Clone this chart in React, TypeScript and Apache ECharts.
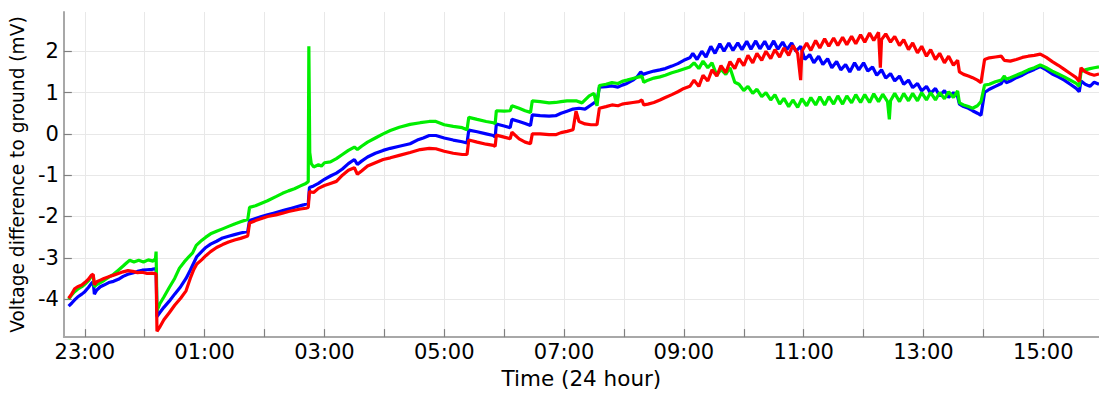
import React, { useEffect, useRef } from "react";
import * as echarts from "echarts";

// time in hours relative to midnight (negative = previous evening)
const hourTicks = [-1, 0, 1, 2, 3, 4, 5, 6, 7, 8, 9, 10, 11, 12, 13, 14, 15];
const hourLabels = [-1, 1, 3, 5, 7, 9, 11, 13, 15];
const voltTicks = [-4, -3, -2, -1, 0, 1, 2];

const blueData = [
  [-1.27,-4.17],[-1.22,-4.1],[-1.17,-4.02],[-1.12,-3.95],[-1.05,-3.88],[-1.0,-3.82],[-0.94,-3.72],[-0.89,-3.62],[-0.86,-3.58],[-0.84,-3.88],[-0.8,-3.78],[-0.74,-3.7],[-0.68,-3.66],[-0.6,-3.6],[-0.52,-3.57],[-0.44,-3.52],[-0.36,-3.45],[-0.28,-3.4],[-0.2,-3.37],[-0.12,-3.33],[-0.04,-3.3],[0.04,-3.29],[0.12,-3.28],[0.19,-3.26],
  [0.205,-4.42],[0.25,-4.33],[0.32,-4.2],[0.41,-4.05],[0.5,-3.88],[0.6,-3.7],[0.69,-3.5],[0.76,-3.3],[0.82,-3.12],[0.87,-2.97],[0.95,-2.85],[1.02,-2.75],[1.1,-2.67],[1.2,-2.6],[1.3,-2.52],[1.4,-2.48],[1.5,-2.44],[1.6,-2.4],[1.72,-2.36],
  [1.75,-2.1],[1.85,-2.05],[1.95,-2.0],[2.05,-1.96],[2.15,-1.92],[2.25,-1.88],[2.35,-1.84],[2.45,-1.8],[2.55,-1.76],[2.65,-1.72],[2.73,-1.68],
  [2.75,-1.3],[2.82,-1.26],[2.9,-1.2],[3.0,-1.1],[3.1,-1.02],[3.2,-0.95],[3.3,-0.85],[3.4,-0.72],[3.5,-0.62],[3.55,-0.74],[3.62,-0.66],[3.72,-0.56],[3.85,-0.47],[3.98,-0.4],[4.1,-0.35],[4.25,-0.3],[4.43,-0.24],[4.55,-0.15],[4.65,-0.1],[4.75,-0.04],[4.86,-0.04],[5.0,-0.1],[5.15,-0.15],[5.3,-0.19],[5.38,-0.22],
  [5.41,0.09],[5.55,0.05],[5.7,0.0],[5.82,-0.04],[5.85,-0.08],
  [5.87,0.24],[6.0,0.19],[6.1,0.15],[6.13,0.35],[6.25,0.3],[6.35,0.25],[6.44,0.2],
  [6.47,0.46],[6.6,0.44],[6.75,0.43],[6.86,0.44],[6.95,0.5],[7.05,0.55],[7.15,0.6],[7.25,0.62],[7.35,0.6],[7.45,0.7],[7.55,0.8],
  [7.59,1.13],[7.7,1.14],[7.8,1.16],[7.9,1.13],[7.97,1.18],[8.05,1.22],[8.15,1.3],[8.22,1.38],[8.28,1.5],[8.32,1.44],[8.4,1.48],[8.5,1.52],[8.6,1.55],[8.69,1.58],[8.8,1.64],[8.9,1.7],[9.0,1.78],[9.1,1.84],
  [9.15,1.95],[9.22,1.8],[9.3,2.0],[9.37,1.86],[9.45,2.12],[9.52,1.95],[9.6,2.18],[9.67,2.0],[9.75,2.2],[9.82,2.02],[9.9,2.2],[9.97,2.04],[10.05,2.24],[10.12,2.05],[10.2,2.25],[10.27,2.06],[10.35,2.24],[10.42,2.05],[10.5,2.25],[10.57,2.05],[10.65,2.22],[10.72,2.04],[10.8,2.2],[10.87,2.0],[10.95,2.12],[11.02,1.8],[11.1,1.92],[11.17,1.72],[11.25,1.88],[11.32,1.68],[11.4,1.82],[11.47,1.6],[11.55,1.75],[11.62,1.55],[11.7,1.68],[11.77,1.5],[11.85,1.72],[11.92,1.55],[12.0,1.72],[12.07,1.52],[12.15,1.62],[12.22,1.42],[12.3,1.55],[12.37,1.35],[12.45,1.46],[12.52,1.28],[12.6,1.4],[12.67,1.2],[12.75,1.3],[12.82,1.12],[12.9,1.22],[12.97,1.04],[13.05,1.15],[13.12,0.98],[13.2,1.1],[13.27,0.92],[13.35,1.05],[13.42,0.88],[13.5,1.0],[13.57,0.9],[13.6,0.72],[13.67,0.66],[13.75,0.62],[13.82,0.56],[13.9,0.5],[13.96,0.45],
  [14.02,1.0],[14.1,1.08],[14.2,1.15],[14.3,1.22],[14.35,1.35],[14.38,1.24],[14.45,1.28],[14.55,1.36],[14.65,1.42],[14.75,1.5],[14.85,1.56],[14.95,1.63],[15.05,1.55],[15.15,1.45],[15.25,1.38],[15.35,1.3],[15.45,1.2],[15.55,1.1],[15.6,1.02],[15.63,1.28],[15.7,1.2],[15.78,1.15],[15.85,1.25],[15.93,1.2],
];

const greenData = [
  [-1.27,-4.0],[-1.22,-3.9],[-1.17,-3.82],[-1.12,-3.76],[-1.05,-3.7],[-1.0,-3.64],[-0.94,-3.56],[-0.89,-3.45],[-0.86,-3.42],[-0.84,-3.7],[-0.8,-3.65],[-0.74,-3.6],[-0.68,-3.55],[-0.6,-3.47],[-0.52,-3.4],[-0.44,-3.3],[-0.36,-3.2],[-0.3,-3.12],[-0.25,-3.06],[-0.18,-3.1],[-0.1,-3.06],[-0.02,-3.1],[0.06,-3.05],[0.14,-3.08],[0.18,-3.02],[0.19,-2.85],
  [0.205,-4.28],[0.25,-4.12],[0.32,-3.95],[0.41,-3.72],[0.5,-3.5],[0.58,-3.25],[0.66,-3.1],[0.74,-2.97],[0.8,-2.88],[0.86,-2.7],[0.95,-2.58],[1.02,-2.5],[1.1,-2.42],[1.2,-2.36],[1.3,-2.3],[1.4,-2.24],[1.5,-2.18],[1.6,-2.13],[1.72,-2.07],
  [1.75,-1.78],[1.85,-1.74],[1.95,-1.68],[2.05,-1.62],[2.19,-1.52],[2.3,-1.44],[2.4,-1.38],[2.5,-1.33],[2.6,-1.26],[2.69,-1.2],[2.73,-1.16],
  [2.74,2.12],[2.755,-0.45],[2.78,-0.72],[2.82,-0.8],[2.9,-0.75],[2.95,-0.78],[3.0,-0.7],[3.1,-0.68],[3.2,-0.6],[3.3,-0.5],[3.4,-0.4],[3.5,-0.32],[3.55,-0.38],[3.62,-0.3],[3.72,-0.2],[3.85,-0.1],[3.98,0.0],[4.1,0.08],[4.25,0.16],[4.43,0.23],[4.6,0.27],[4.75,0.3],[4.86,0.3],[5.0,0.22],[5.15,0.18],[5.3,0.15],[5.38,0.1],
  [5.41,0.4],[5.55,0.35],[5.7,0.3],[5.82,0.27],[5.85,0.25],
  [5.87,0.56],[6.0,0.55],[6.1,0.56],[6.13,0.68],[6.25,0.62],[6.35,0.56],[6.44,0.52],
  [6.47,0.8],[6.6,0.78],[6.75,0.75],[6.86,0.76],[6.95,0.78],[7.05,0.8],[7.2,0.8],[7.3,0.75],[7.42,0.92],[7.5,0.98],[7.55,0.68],
  [7.59,1.17],[7.7,1.2],[7.8,1.24],[7.9,1.22],[7.97,1.27],[8.05,1.3],[8.15,1.34],[8.25,1.38],[8.3,1.4],[8.33,1.25],[8.4,1.3],[8.5,1.35],[8.6,1.38],[8.69,1.42],[8.8,1.48],[8.9,1.52],[9.0,1.57],[9.1,1.62],
  [9.17,1.72],[9.25,1.58],[9.32,1.76],[9.4,1.6],[9.47,1.72],[9.55,1.42],[9.62,1.56],[9.7,1.44],[9.77,1.6],[9.85,1.25],[9.92,1.2],[10.0,1.05],[10.07,1.15],[10.15,0.98],[10.22,1.08],[10.3,0.9],[10.37,1.0],[10.45,0.82],[10.52,0.95],[10.6,0.72],[10.67,0.86],[10.75,0.66],[10.82,0.82],[10.9,0.64],[10.97,0.85],[11.05,0.68],[11.12,0.88],[11.2,0.7],[11.27,0.9],[11.35,0.7],[11.42,0.9],[11.5,0.72],[11.57,0.92],[11.65,0.72],[11.72,0.92],[11.8,0.75],[11.87,0.95],[11.95,0.76],[12.02,0.95],[12.1,0.76],[12.17,0.97],[12.25,0.78],[12.32,0.96],[12.4,0.78],[12.43,0.35],[12.45,0.8],[12.52,0.98],[12.6,0.78],[12.67,0.98],[12.75,0.8],[12.82,0.98],[12.9,0.8],[12.97,1.0],[13.05,0.82],[13.12,1.0],[13.2,0.82],[13.27,1.0],[13.35,0.85],[13.42,1.02],[13.5,0.88],[13.57,1.04],[13.6,0.75],[13.67,0.7],[13.75,0.66],[13.82,0.62],[13.9,0.68],[13.96,0.78],
  [14.02,1.18],[14.1,1.2],[14.2,1.26],[14.3,1.3],[14.35,1.4],[14.38,1.32],[14.45,1.36],[14.55,1.42],[14.65,1.48],[14.75,1.55],[14.85,1.6],[14.95,1.67],[15.05,1.6],[15.15,1.52],[15.25,1.45],[15.35,1.38],[15.45,1.3],[15.55,1.22],[15.6,1.15],[15.63,1.5],[15.7,1.55],[15.78,1.58],[15.85,1.6],[15.93,1.62],
];

const redData = [
  [-1.27,-3.98],[-1.22,-3.88],[-1.17,-3.75],[-1.12,-3.7],[-1.05,-3.66],[-1.0,-3.6],[-0.94,-3.52],[-0.89,-3.42],[-0.86,-3.4],[-0.84,-3.65],[-0.8,-3.58],[-0.74,-3.54],[-0.68,-3.5],[-0.6,-3.46],[-0.52,-3.42],[-0.44,-3.38],[-0.36,-3.34],[-0.28,-3.31],[-0.2,-3.33],[-0.12,-3.36],[-0.04,-3.35],[0.04,-3.38],[0.12,-3.37],[0.19,-3.39],
  [0.205,-4.78],[0.25,-4.68],[0.32,-4.5],[0.41,-4.33],[0.5,-4.15],[0.6,-3.98],[0.69,-3.8],[0.76,-3.5],[0.82,-3.28],[0.87,-3.15],[0.95,-3.05],[1.02,-2.95],[1.1,-2.85],[1.2,-2.75],[1.3,-2.68],[1.4,-2.62],[1.5,-2.57],[1.6,-2.53],[1.72,-2.47],
  [1.75,-2.16],[1.85,-2.1],[1.95,-2.05],[2.05,-2.0],[2.19,-1.96],[2.3,-1.92],[2.4,-1.88],[2.5,-1.85],[2.6,-1.82],[2.69,-1.8],[2.73,-1.78],
  [2.75,-1.4],[2.82,-1.42],[2.9,-1.32],[3.0,-1.25],[3.1,-1.2],[3.2,-1.15],[3.3,-1.0],[3.4,-0.88],[3.5,-0.82],[3.55,-0.98],[3.62,-0.9],[3.72,-0.78],[3.85,-0.7],[3.98,-0.62],[4.1,-0.58],[4.25,-0.52],[4.43,-0.45],[4.6,-0.38],[4.75,-0.35],[4.86,-0.36],[5.0,-0.42],[5.15,-0.47],[5.3,-0.5],[5.38,-0.5],
  [5.41,-0.15],[5.55,-0.2],[5.7,-0.25],[5.82,-0.28],[5.85,-0.3],
  [5.87,-0.03],[6.0,-0.08],[6.1,-0.12],[6.13,0.04],[6.25,-0.12],[6.35,-0.2],[6.44,-0.24],
  [6.47,0.0],[6.6,0.0],[6.75,-0.02],[6.86,-0.02],[6.95,0.03],[7.05,0.06],[7.15,0.1],[7.2,0.55],[7.25,0.3],[7.35,0.24],[7.45,0.22],[7.55,0.22],
  [7.59,0.62],[7.7,0.66],[7.8,0.7],[7.9,0.68],[7.97,0.72],[8.05,0.74],[8.15,0.76],[8.25,0.78],[8.3,0.82],[8.33,0.7],[8.4,0.72],[8.5,0.76],[8.6,0.82],[8.69,0.88],[8.8,0.95],[8.9,1.02],[9.0,1.1],[9.1,1.15],
  [9.17,1.3],[9.25,1.15],[9.32,1.42],[9.4,1.28],[9.47,1.55],[9.55,1.4],[9.62,1.65],[9.7,1.48],[9.77,1.75],[9.85,1.58],[9.92,1.82],[10.0,1.65],[10.07,1.9],[10.15,1.72],[10.22,1.95],[10.3,1.78],[10.37,2.0],[10.45,1.82],[10.52,2.04],[10.6,1.86],[10.67,2.08],[10.75,1.9],[10.82,2.14],[10.9,1.95],[10.95,1.3],[10.97,2.0],[11.05,2.2],[11.12,2.02],[11.2,2.26],[11.27,2.08],[11.35,2.3],[11.42,2.12],[11.5,2.32],[11.57,2.14],[11.65,2.34],[11.72,2.16],[11.8,2.36],[11.87,2.18],[11.95,2.4],[12.02,2.22],[12.1,2.44],[12.17,2.26],[12.25,2.46],[12.28,1.6],[12.3,2.28],[12.37,2.42],[12.45,2.22],[12.52,2.36],[12.6,2.14],[12.67,2.28],[12.75,2.04],[12.82,2.2],[12.9,1.96],[12.97,2.12],[13.05,1.88],[13.12,2.04],[13.2,1.8],[13.27,1.95],[13.35,1.72],[13.42,1.88],[13.5,1.66],[13.57,1.78],[13.6,1.5],[13.67,1.44],[13.75,1.4],[13.82,1.36],[13.9,1.3],[13.96,1.24],
  [14.02,1.8],[14.1,1.84],[14.2,1.86],[14.3,1.88],[14.35,1.78],[14.45,1.76],[14.55,1.8],[14.65,1.85],[14.75,1.88],[14.85,1.9],[14.95,1.93],[15.05,1.85],[15.15,1.75],[15.25,1.66],[15.35,1.56],[15.45,1.46],[15.55,1.36],[15.6,1.27],[15.63,1.6],[15.7,1.5],[15.78,1.45],[15.85,1.42],[15.93,1.45],
];

const fmtHour = (v: number) => {
  const h = ((Math.round(v) % 24) + 24) % 24;
  return (h < 10 ? "0" : "") + h + ":00";
};

export default function App() {
  const ref = useRef<HTMLDivElement>(null);
  useEffect(() => {
    if (!ref.current) return;
    const chart = echarts.init(ref.current, null, { renderer: "svg" });
    const axisGray = "#a8a8a8";
    const gridGray = "#e8e8e8";
    const font = "DejaVu Sans";
    const mkSeries = (name: string, color: string, data: number[][]) => ({
      name,
      type: "line",
      data,
      showSymbol: false,
      symbol: "none",
      lineStyle: { color, width: 3.2 },
      itemStyle: { color },
      z: 2,
    });
    chart.setOption({
      animation: false,
      textStyle: { fontFamily: font },
      grid: { left: 59, right: 0, top: 12, bottom: 49 },
      xAxis: {
        type: "value",
        min: -1.35,
        max: 15.93,
        name: "Time (24 hour)",
        nameLocation: "middle",
        nameGap: 28,
        nameTextStyle: { color: "#000", fontSize: 21.5, fontFamily: font },
        axisLine: { show: true, onZero: false, lineStyle: { color: axisGray, width: 2 } },
        axisTick: { show: true, inside: true, length: 8, customValues: hourTicks, lineStyle: { color: "#808080", width: 1.2 } },
        axisLabel: { customValues: hourLabels, formatter: fmtHour, color: "#000", fontSize: 21, fontFamily: font, margin: 4 },
        splitLine: { show: true, lineStyle: { color: gridGray, width: 1 } },
      },
      yAxis: {
        type: "value",
        min: -4.92,
        max: 2.95,
        name: "Voltage difference to ground (mV)",
        nameLocation: "middle",
        nameRotate: 90,
        nameGap: 27,
        nameTextStyle: { color: "#000", fontSize: 18.6, fontFamily: font },
        axisLine: { show: true, onZero: false, lineStyle: { color: axisGray, width: 2 } },
        axisTick: { show: true, inside: true, length: 8, customValues: voltTicks, lineStyle: { color: "#808080", width: 1.2 } },
        axisLabel: { customValues: voltTicks, color: "#000", fontSize: 21, fontFamily: font, margin: 5 },
        splitLine: { show: true, lineStyle: { color: gridGray, width: 1 } },
      },
      series: [
        mkSeries("blue", "#0000ff", blueData),
        mkSeries("green", "#00ee00", greenData),
        mkSeries("red", "#ff0000", redData),
      ],
    });
    return () => chart.dispose();
  }, []);
  return <div ref={ref} style={{ width: 1099, height: 394, position: "absolute", left: 0, top: 0 }} />;
}
